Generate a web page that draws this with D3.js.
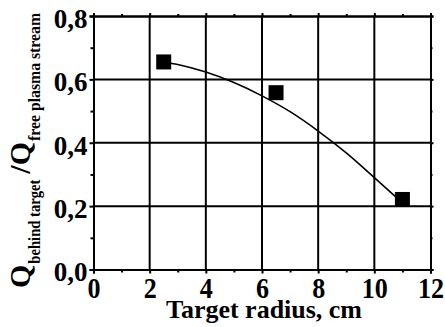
<!DOCTYPE html>
<html>
<head>
<meta charset="utf-8">
<script src="https://cdn.jsdelivr.net/npm/d3@7"></script>
<style>
  html, body { margin: 0; padding: 0; background: #fff; }
  svg { display: block; }
</style>
</head>
<body>
<svg id="chart" width="445" height="327"></svg>
<script>
// Measured points: target radius (cm) vs. flux ratio
const radius = [2.5, 6.5, 11];
const ratio = [0.655, 0.558, 0.221];

// Smooth trend line through the measurements
const trendX = [2.5, 3, 4, 5, 6, 7, 8, 9, 10, 11];
const trendY = [0.655, 0.647, 0.623, 0.59, 0.548, 0.498, 0.437, 0.368, 0.29, 0.21];

// Axis ticks
const xTicks = [0, 2, 4, 6, 8, 10, 12];
const xMinor = [1, 3, 5, 7, 9, 11];
const yTicks = [0, 0.2, 0.4, 0.6, 0.8];
const yMinor = [0.1, 0.3, 0.5, 0.7];

const FONT = "'Liberation Serif'";
const svg = d3.select("#chart");
const plot = { left: 93.5, right: 430.5, top: 16, bottom: 269.5 };

const x = d3.scaleLinear().domain([0, 12]).range([plot.left, plot.right]);
const y = d3.scaleLinear().domain([0, 0.8]).range([plot.bottom, plot.top]);
const fmtY = d => d3.format(".1f")(d).replace(".", ",");

// Grid lines
const grid = svg.append("g").attr("stroke", "#000").attr("stroke-width", 2);
grid.selectAll(".gx").data(xTicks.slice(1, -1)).join("line")
  .attr("x1", d => x(d)).attr("x2", d => x(d))
  .attr("y1", plot.top).attr("y2", plot.bottom);
grid.selectAll(".gy").data(yTicks.slice(1, -1)).join("line")
  .attr("x1", plot.left).attr("x2", plot.right)
  .attr("y1", d => y(d)).attr("y2", d => y(d));

// Axes: major and minor ticks point outward on all four sides
const axB = svg.append("g").attr("transform", `translate(0,${plot.bottom})`)
  .call(d3.axisBottom(x).tickValues(xTicks).tickSize(4).tickPadding(4).tickFormat(d3.format("d")));
const axBm = svg.append("g").attr("transform", `translate(0,${plot.bottom})`)
  .call(d3.axisBottom(x).tickValues(xMinor).tickSize(3).tickFormat(""));
const axT = svg.append("g").attr("transform", `translate(0,${plot.top})`)
  .call(d3.axisTop(x).tickValues(xTicks).tickSize(3).tickFormat(""));
const axTm = svg.append("g").attr("transform", `translate(0,${plot.top})`)
  .call(d3.axisTop(x).tickValues(xMinor).tickSize(2).tickFormat(""));
const axL = svg.append("g").attr("transform", `translate(${plot.left},0)`)
  .call(d3.axisLeft(y).tickValues(yTicks).tickSize(4).tickPadding(2).tickFormat(fmtY));
const axLm = svg.append("g").attr("transform", `translate(${plot.left},0)`)
  .call(d3.axisLeft(y).tickValues(yMinor).tickSize(3).tickFormat(""));
const axR = svg.append("g").attr("transform", `translate(${plot.right},0)`)
  .call(d3.axisRight(y).tickValues(yTicks).tickSize(3).tickFormat(""));
const axRm = svg.append("g").attr("transform", `translate(${plot.right},0)`)
  .call(d3.axisRight(y).tickValues(yMinor).tickSize(2).tickFormat(""));

[axB, axBm, axT, axTm, axL, axLm, axR, axRm].forEach(a => {
  a.attr("font-family", FONT);
  a.selectAll(".domain").attr("stroke-width", 2);
  a.selectAll(".tick line").attr("stroke-width", 2);
});
axB.selectAll(".tick text")
  .style("font-family", FONT).style("font-weight", "bold").style("font-size", "29px")
  .attr("dy", "0.71em").attr("transform", "scale(0.9,1)");
axL.selectAll(".tick text")
  .style("font-family", FONT).style("font-weight", "bold").style("font-size", "27px")
  .attr("dy", "0.42em");

// Trend line
svg.append("path")
  .datum(trendX.map((d, i) => [d, trendY[i]]))
  .attr("fill", "none").attr("stroke", "#000").attr("stroke-width", 1.6)
  .attr("d", d3.line().x(d => x(d[0])).y(d => y(d[1])).curve(d3.curveMonotoneX));

// Square markers
const ms = 15;
svg.selectAll(".pt").data(radius).join("rect")
  .attr("x", d => x(d) - ms / 2)
  .attr("y", (d, i) => y(ratio[i]) - ms / 2)
  .attr("width", ms).attr("height", ms).attr("fill", "#000");

// X axis title
svg.append("text")
  .attr("x", 264).attr("y", 318)
  .attr("text-anchor", "middle")
  .style("font-family", FONT).style("font-weight", "bold").style("font-size", "26px")
  .attr("textLength", 196).attr("lengthAdjust", "spacingAndGlyphs")
  .text("Target radius, cm");

// Y axis title: Q_behind target / Q_free plasma stream, read bottom to top
const yTitle = svg.append("g").attr("transform", "translate(30,288) rotate(-90)");
const pieces = [
  { t: "Q", size: 30, dy: 0, len: null, gap: 1 },
  { t: "behind target", size: 16.5, dy: 10, len: 84, gap: 6 },
  { t: "/Q", size: 30, dy: 0, len: null, gap: 1 },
  { t: "free plasma stream", size: 16.5, dy: 10, len: 128, gap: 0 }
];
let pos = 0;
pieces.forEach(p => {
  const el = yTitle.append("text")
    .attr("x", pos).attr("y", p.dy)
    .style("font-family", FONT).style("font-weight", "bold").style("font-size", p.size + "px")
    .text(p.t);
  if (p.len) el.attr("textLength", p.len).attr("lengthAdjust", "spacingAndGlyphs");
  const w = p.len || el.node().getComputedTextLength();
  pos += w + p.gap;
});
</script>
</body>
</html>
